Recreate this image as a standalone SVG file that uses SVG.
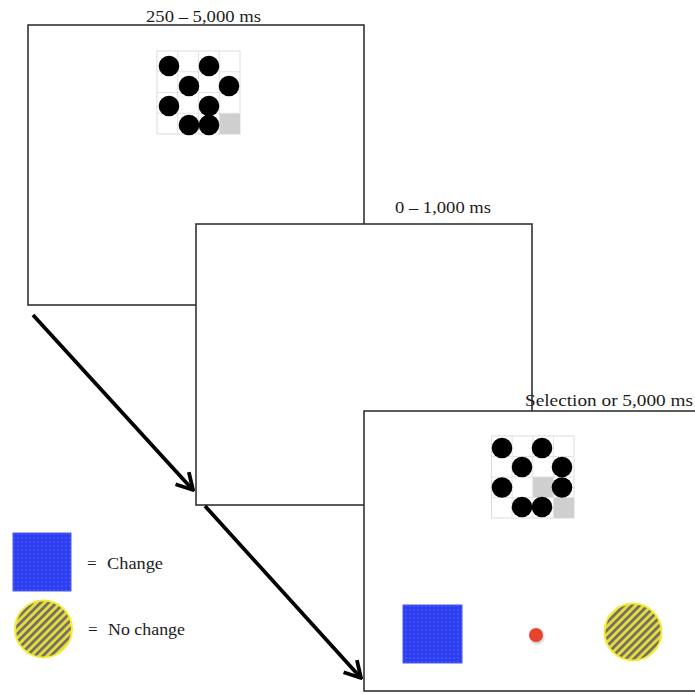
<svg xmlns="http://www.w3.org/2000/svg" width="695" height="694" viewBox="0 0 695 694">
<defs>
<style>
.frame{fill:#fff;stroke:#333;stroke-width:1.6}
.lbl{font-family:"Liberation Serif","Times New Roman",serif;font-size:17px;fill:#1c1c1c}
.grid{fill:#fff;stroke:#dcdcdc;stroke-width:1}
.gray{fill:#cfcfcf}
.dot{fill:#000}
.arrow{stroke:#000;stroke-width:3.8;fill:none;marker-end:url(#ah)}
</style>
<marker id="ah" viewBox="-20 -11 22 22" refX="0" refY="0" markerWidth="22" markerHeight="22" markerUnits="userSpaceOnUse" orient="auto">
<path d="M-16,-9 L0,0 L-16,9" fill="none" stroke="#000" stroke-width="3.8" stroke-linejoin="miter"/>
</marker>
<pattern id="blue" width="4" height="4" patternUnits="userSpaceOnUse">
<rect width="4" height="4" fill="#2b3ef2"/>
<circle cx="2" cy="2" r="0.8" fill="#5a66f0"/>
</pattern>
<pattern id="stripe" width="5.6" height="5.6" patternUnits="userSpaceOnUse" patternTransform="rotate(45)">
<rect width="5.6" height="5.6" fill="#e4dc3e"/>
<rect width="2.6" height="5.6" fill="#6f6a66"/>
</pattern>
<filter id="sh" x="-50%" y="-50%" width="200%" height="200%">
<feGaussianBlur stdDeviation="1.2"/>
</filter>
</defs>

<g id="frame1">
<rect class="frame" x="28" y="25" width="336" height="280"/>
<text class="lbl" x="146" y="22" textLength="115" lengthAdjust="spacingAndGlyphs">250 – 5,000 ms</text>
<g id="grid1">
<rect class="grid" x="157" y="51" width="83" height="83"/>
<rect class="gray" x="219.25" y="113.25" width="20.75" height="20.75"/>
<path d="M177.75 51V134M198.5 51V134M219.25 51V134M157 71.75H240M157 92.5H240M157 113.25H240" stroke="#e2e2e2" stroke-width="1" fill="none"/>
<circle class="dot" cx="169" cy="66" r="10.3"/>
<circle class="dot" cx="209" cy="66" r="10.3"/>
<circle class="dot" cx="189" cy="86" r="10.3"/>
<circle class="dot" cx="229" cy="86" r="10.3"/>
<circle class="dot" cx="169" cy="106" r="10.3"/>
<circle class="dot" cx="209" cy="106" r="10.3"/>
<circle class="dot" cx="189" cy="125" r="10.3"/>
<circle class="dot" cx="209" cy="125" r="10.3"/>
</g>
</g>

<g id="frame2">
<rect class="frame" x="196" y="224" width="336" height="281"/>
<text class="lbl" x="395" y="213" textLength="96" lengthAdjust="spacingAndGlyphs">0 – 1,000 ms</text>
</g>

<g id="frame3">
<rect class="frame" x="364" y="411" width="340" height="280"/>
<text class="lbl" x="525" y="406" textLength="168" lengthAdjust="spacingAndGlyphs">Selection or 5,000 ms</text>
<g id="grid2">
<rect class="grid" x="491.5" y="436" width="82.5" height="82"/>
<rect class="gray" x="532.8" y="477" width="20.6" height="20.5"/>
<rect class="gray" x="553.4" y="497.5" width="20.6" height="20.5"/>
<path d="M512.1 436V518M532.8 436V518M553.4 436V518M491.5 456.5H574M491.5 477H574M491.5 497.5H574" stroke="#e2e2e2" stroke-width="1" fill="none"/>
<circle class="dot" cx="502" cy="448" r="10.3"/>
<circle class="dot" cx="542" cy="448" r="10.3"/>
<circle class="dot" cx="522" cy="467" r="10.3"/>
<circle class="dot" cx="562" cy="467" r="10.3"/>
<circle class="dot" cx="502" cy="487.5" r="10.3"/>
<circle class="dot" cx="562" cy="487.5" r="10.3"/>
<circle class="dot" cx="522" cy="507" r="10.3"/>
<circle class="dot" cx="542" cy="507" r="10.3"/>
</g>
<rect x="403" y="605" width="59" height="58" fill="url(#blue)" stroke="#4a5cf5" stroke-width="1"/>
<circle cx="537" cy="637" r="7" fill="#999" opacity="0.5" filter="url(#sh)"/>
<circle cx="536" cy="635" r="7" fill="#e8432e"/>
<circle cx="633" cy="632" r="28.5" fill="url(#stripe)" stroke="#f2ec3a" stroke-width="2"/>
</g>

<g id="legend">
<rect x="13" y="533" width="58" height="58" fill="url(#blue)" stroke="#4a5cf5" stroke-width="1"/>
<text class="lbl" x="87" y="569">=</text>
<text class="lbl" x="107" y="569" textLength="56" lengthAdjust="spacingAndGlyphs">Change</text>
<circle cx="43.5" cy="629" r="28.5" fill="url(#stripe)" stroke="#f2ec3a" stroke-width="2"/>
<text class="lbl" x="88" y="635">=</text>
<text class="lbl" x="108" y="635" textLength="77" lengthAdjust="spacingAndGlyphs">No change</text>
</g>

<g id="connectors">
<line class="arrow" x1="33" y1="315" x2="193" y2="490"/>
<line class="arrow" x1="205" y1="506" x2="361" y2="678"/>
</g>
</svg>
